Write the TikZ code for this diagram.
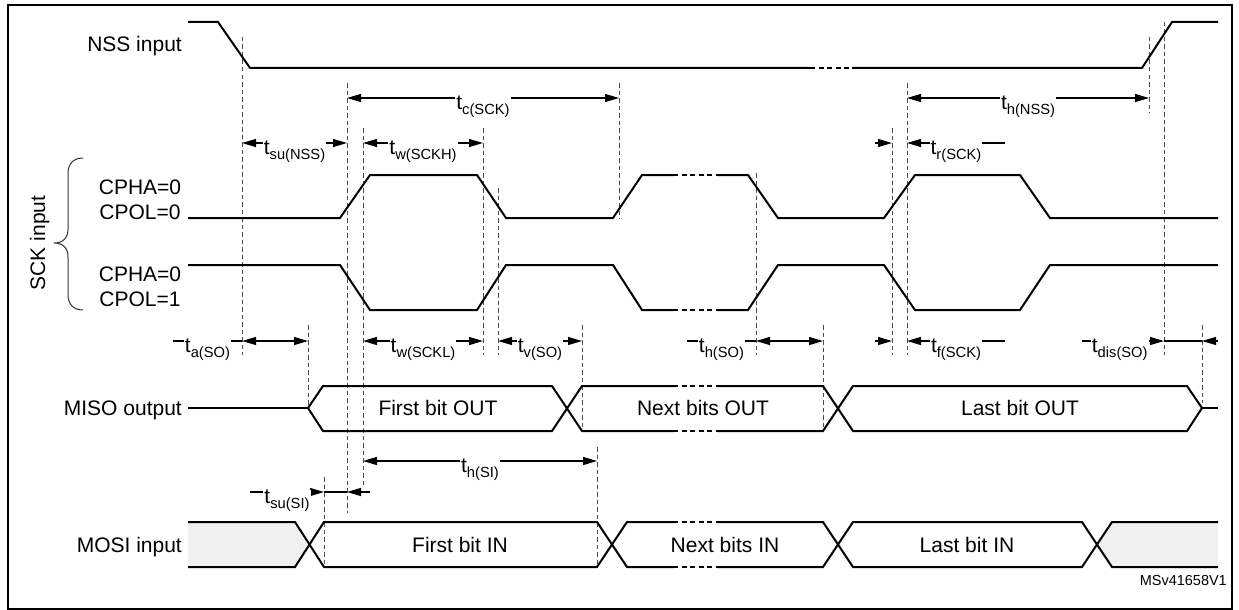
\documentclass[tikz,border=0pt]{standalone}
\usepackage{fontspec}
\setmainfont{Liberation Sans}
\usetikzlibrary{arrows.meta}
\newcommand{\labfont}{\fontsize{21}{25}\selectfont}
\newcommand{\tsub}[1]{t\raisebox{-5pt}{\fontsize{14.7}{16}\selectfont #1}}

\begin{document}
\begin{tikzpicture}[x=1pt,y=-1pt,>={Triangle[length=14pt,width=8pt]},
    wave/.style={line width=2pt},
    dots/.style={wave,dash pattern=on 5pt off 3.5pt},
    guide/.style={black!70,line width=0.9pt,dash pattern=on 4.5pt off 3pt},
    dim/.style={<->,line width=1.2pt},
    tip/.style={->,line width=1.2pt},
    bar/.style={line width=1.2pt},
    tlab/.style={fill=white,inner xsep=1pt,inner ysep=0pt,anchor=base,yshift=-11.5pt,font=\labfont},
    sig/.style={inner sep=0pt,font=\labfont},
    gap/.style={fill=black!6}]
    \useasboundingbox (0,0) rectangle (1239,610);
    \draw[line width=2.5pt] (8,5) rectangle (1232,609);

    \foreach \g/\x/\a/\b in {nss/242/37/355, ck1/347/83/513, ck1e/363/128/485, so1/308/325/408,
        si1/324/477/565, ck2/483/128/355, ck2e/498/188/355, so2/582/325/431, ck3e/619/83/219,
        si2/597/447/566, ck4/756/173/355, so3/823/325/431, ck5/892/128/355, ck5e/907/83/355,
        nssr/1149/37/113, nssre/1164/22/355, so4/1202/325/403}
        {\coordinate (\g) at (\x,\a); \draw[guide] (\g) -- (\x,\b);}

    \node[sig,anchor=base east] (nsslab) at (182,52) {NSS input};
    \node[sig,align=center] (ck0lab) at (140,200) {CPHA=0\\CPOL=0};
    \node[sig,align=center] (ck1lab) at (140,287) {CPHA=0\\CPOL=1};
    \node[sig,rotate=90,anchor=base] (scklab) at (45,243) {SCK input};
    \node[sig,anchor=base east] (misolab) at (182,415.5) {MISO output};
    \node[sig,anchor=base east] (mosilab) at (182,552) {MOSI input};
    \draw[line width=1pt,black!80] (83,158) .. controls (73,158) and (68,164) .. (68,174) -- (68,229)
        .. controls (68,238) and (63,243) .. (54,243) .. controls (63,243) and (68,248) .. (68,257)
        -- (68,294) .. controls (68,304) and (73,310) .. (83,310);

    \draw[wave] (188,22) -- (218,22) -- (250,68) -- (810,68);
    \draw[dots] (810,68) -- (852,68);
    \draw[wave] (852,68) -- (1142,68) -- (1172,22) -- (1218,22);

    \foreach \u/\d in {175/218,310/265} {
        \draw[wave] (188,\d) -- (340,\d) -- (370,\u) -- (477,\u) -- (506,\d) -- (613,\d) -- (642,\u) -- (673,\u);
        \draw[dots] (673,\u) -- (717,\u);
        \draw[wave] (717,\u) -- (748,\u) -- (778,\d) -- (884,\d) -- (915,\u) -- (1020,\u) -- (1050,\d) -- (1218,\d);
    }

    \draw[wave] (188,408) -- (308,408);
    \draw[wave] (1202,408) -- (1218,408);
    \foreach \u/\d in {386/431,431/386} {
        \draw[wave] (308,408) -- (323,\u) -- (552,\u) -- (582,\d) -- (673,\d);
        \draw[dots] (673,\d) -- (717,\d);
        \draw[wave] (717,\d) -- (823,\d) -- (853,\u) -- (1187,\u) -- (1202,408);
    }
    \node[sig,anchor=base] (fbo) at (438,415.5) {First bit OUT};
    \node[sig,anchor=base] (nbo) at (703,415.5) {Next bits OUT};
    \node[sig,anchor=base] (lbo) at (1020,415.5) {Last bit OUT};

    \fill[gap] (188,522) -- (295,522) -- (309.5,544.5) -- (295,567) -- (188,567) -- cycle;
    \fill[gap] (1218,522) -- (1112,522) -- (1097,544.5) -- (1112,567) -- (1218,567) -- cycle;
    \foreach \u/\d in {522/567,567/522} {
        \draw[wave] (188,\u) -- (295,\u) -- (324,\d) -- (597,\d) -- (627,\u) -- (673,\u);
        \draw[dots] (673,\u) -- (717,\u);
        \draw[wave] (717,\u) -- (823,\u) -- (853,\d) -- (1082,\d) -- (1112,\u) -- (1218,\u);
    }
    \node[sig,anchor=base] (fbi) at (460,552) {First bit IN};
    \node[sig,anchor=base] (nbi) at (725,552) {Next bits IN};
    \node[sig,anchor=base] (lbi) at (967,552) {Last bit IN};

    \coordinate (rowA) at (0,98);
    \coordinate (rowB) at (0,143);
    \coordinate (rowC) at (0,341);
    \coordinate (rowD) at (0,461);
    \coordinate (rowE) at (0,492);
    \coordinate (trL) at (875,143);
    \coordinate (trR) at (1005,143);
    \coordinate (taL) at (173,341);
    \coordinate (thL) at (687,341);
    \coordinate (tfL) at (875,341);
    \coordinate (tfR) at (1005,341);
    \coordinate (tdL) at (1082,341);
    \coordinate (tdR) at (1218,341);
    \coordinate (tsL) at (250,492);
    \coordinate (tsR) at (370,492);

    \draw[dim] (ck1 |- rowA) -- node[tlab] (tcsck) {\tsub{c(SCK)}} (ck3e |- rowA);
    \draw[dim] (ck5e |- rowA) -- node[tlab] (thnss) {\tsub{h(NSS)}} (nssr |- rowA);

    \draw[dim] (nss |- rowB) -- node[tlab] (tsunss) {\tsub{su(NSS)}} (ck1 |- rowB);
    \draw[dim] (ck1e |- rowB) -- node[tlab] (twh) {\tsub{w(SCKH)}} (ck2 |- rowB);
    \draw[tip] (trL) -- (ck5 |- rowB);
    \draw[tip] (trR) -- node[tlab] (trsck) {\tsub{r(SCK)}} (ck5e |- rowB);

    \draw[bar] (taL) -- node[tlab] (taso) {\tsub{a(SO)}} (nss |- rowC);
    \draw[dim] (nss |- rowC) -- (so1 |- rowC);
    \draw[dim] (ck1e |- rowC) -- node[tlab] (twl) {\tsub{w(SCKL)}} (ck2 |- rowC);
    \draw[dim] (ck2e |- rowC) -- node[tlab] (tvso) {\tsub{v(SO)}} (so2 |- rowC);
    \draw[bar] (thL) -- node[tlab] (thso) {\tsub{h(SO)}} (ck4 |- rowC);
    \draw[dim] (ck4 |- rowC) -- (so3 |- rowC);
    \draw[tip] (tfL) -- (ck5 |- rowC);
    \draw[tip] (tfR) -- node[tlab] (tfsck) {\tsub{f(SCK)}} (ck5e |- rowC);
    \draw[tip] (tdL) -- node[tlab,pos=0.46] (tdis) {\tsub{dis(SO)}} (nssre |- rowC);
    \draw[bar] (nssre |- rowC) -- (so4 |- rowC);
    \draw[tip] (tdR) -- (so4 |- rowC);

    \draw[dim] (ck1e |- rowD) -- node[tlab] (thsi) {\tsub{h(SI)}} (si2 |- rowD);
    \draw[tip] (tsL) -- node[tlab] (tsusi) {\tsub{su(SI)}} (si1 |- rowE);
    \draw[bar] (si1 |- rowE) -- (ck1 |- rowE);
    \draw[tip] (tsR) -- (ck1 |- rowE);

    \node[inner sep=0pt,anchor=base east,font=\fontsize{14.5}{16}\selectfont] (tag) at (1227,585) {MSv41658V1};
\end{tikzpicture}
\end{document}
